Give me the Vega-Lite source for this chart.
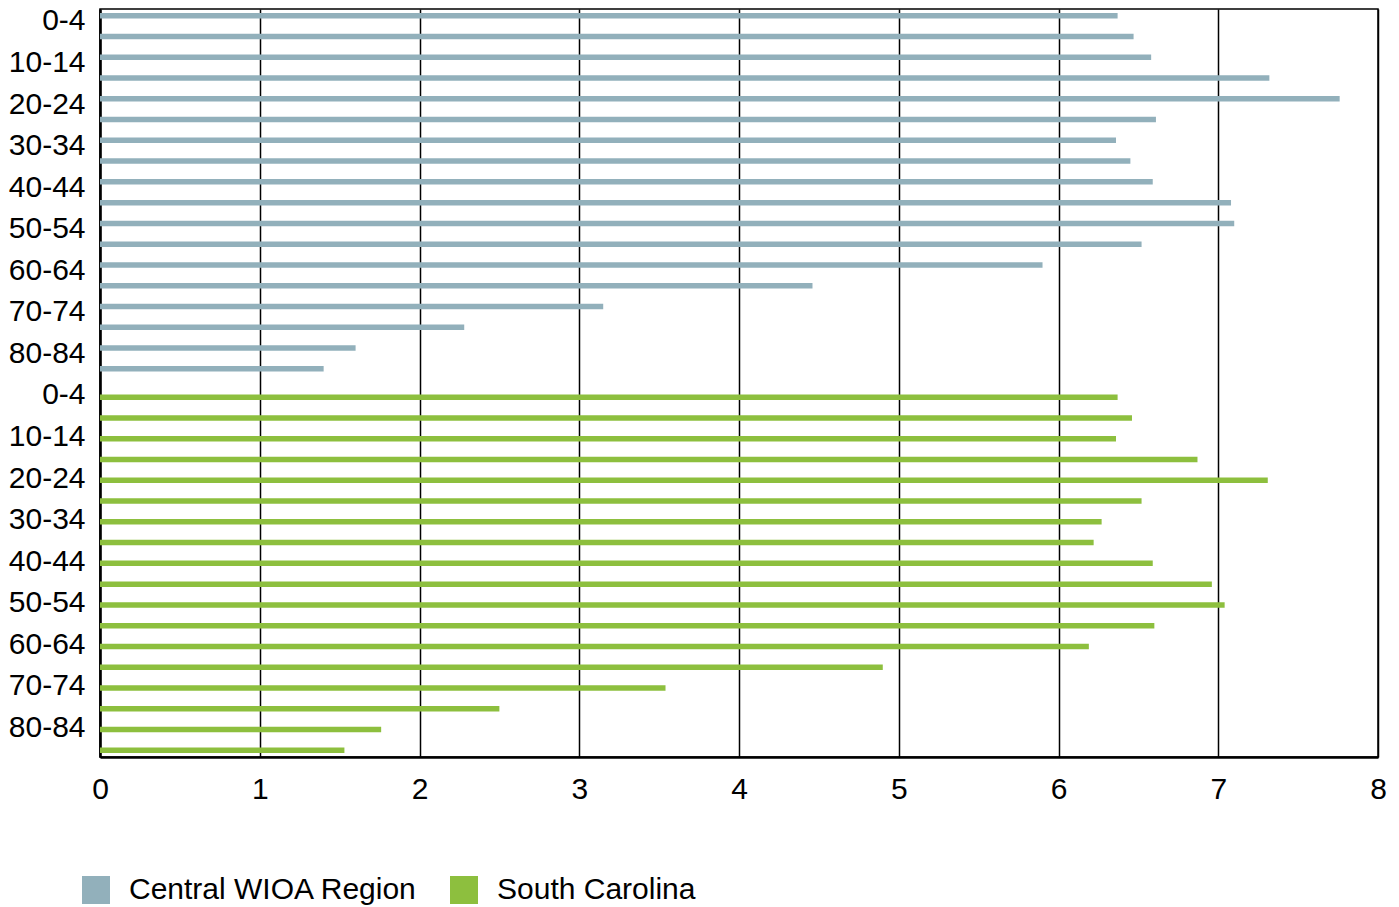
{
  "$schema": "https://vega.github.io/schema/vega-lite/v6.json",
  "width": 1278,
  "height": 748,
  "autosize": {"type": "none"},
  "padding": {"left": 100, "top": 9, "right": 21, "bottom": 150},
  "background": "white",
  "config": {
    "font": "Liberation Sans",
    "view": {"stroke": "black", "strokeWidth": 1.5},
    "axis": {"labelFont": "Liberation Sans", "labelFontSize": 30, "labelColor": "black"}
  },
  "data": {
    "values": [
      {"key": "C|0-4", "series": "Central WIOA Region", "value": 6.37},
      {"key": "C|5-9", "series": "Central WIOA Region", "value": 6.47},
      {"key": "C|10-14", "series": "Central WIOA Region", "value": 6.58},
      {"key": "C|15-19", "series": "Central WIOA Region", "value": 7.32},
      {"key": "C|20-24", "series": "Central WIOA Region", "value": 7.76},
      {"key": "C|25-29", "series": "Central WIOA Region", "value": 6.61},
      {"key": "C|30-34", "series": "Central WIOA Region", "value": 6.36},
      {"key": "C|35-39", "series": "Central WIOA Region", "value": 6.45},
      {"key": "C|40-44", "series": "Central WIOA Region", "value": 6.59},
      {"key": "C|45-49", "series": "Central WIOA Region", "value": 7.08},
      {"key": "C|50-54", "series": "Central WIOA Region", "value": 7.10},
      {"key": "C|55-59", "series": "Central WIOA Region", "value": 6.52},
      {"key": "C|60-64", "series": "Central WIOA Region", "value": 5.90},
      {"key": "C|65-69", "series": "Central WIOA Region", "value": 4.46},
      {"key": "C|70-74", "series": "Central WIOA Region", "value": 3.15},
      {"key": "C|75-79", "series": "Central WIOA Region", "value": 2.28},
      {"key": "C|80-84", "series": "Central WIOA Region", "value": 1.60},
      {"key": "C|85+", "series": "Central WIOA Region", "value": 1.40},
      {"key": "S|0-4", "series": "South Carolina", "value": 6.37},
      {"key": "S|5-9", "series": "South Carolina", "value": 6.46},
      {"key": "S|10-14", "series": "South Carolina", "value": 6.36},
      {"key": "S|15-19", "series": "South Carolina", "value": 6.87},
      {"key": "S|20-24", "series": "South Carolina", "value": 7.31},
      {"key": "S|25-29", "series": "South Carolina", "value": 6.52},
      {"key": "S|30-34", "series": "South Carolina", "value": 6.27},
      {"key": "S|35-39", "series": "South Carolina", "value": 6.22},
      {"key": "S|40-44", "series": "South Carolina", "value": 6.59},
      {"key": "S|45-49", "series": "South Carolina", "value": 6.96},
      {"key": "S|50-54", "series": "South Carolina", "value": 7.04},
      {"key": "S|55-59", "series": "South Carolina", "value": 6.60},
      {"key": "S|60-64", "series": "South Carolina", "value": 6.19},
      {"key": "S|65-69", "series": "South Carolina", "value": 4.90},
      {"key": "S|70-74", "series": "South Carolina", "value": 3.54},
      {"key": "S|75-79", "series": "South Carolina", "value": 2.50},
      {"key": "S|80-84", "series": "South Carolina", "value": 1.76},
      {"key": "S|85+", "series": "South Carolina", "value": 1.53}
    ]
  },
  "mark": {"type": "bar"},
  "encoding": {
    "y": {
      "field": "key",
      "type": "nominal",
      "sort": null,
      "scale": {"paddingInner": 0, "paddingOuter": 0},
      "axis": {
        "title": null,
        "values": ["C|0-4", "C|10-14", "C|20-24", "C|30-34", "C|40-44", "C|50-54", "C|60-64", "C|70-74", "C|80-84", "S|0-4", "S|10-14", "S|20-24", "S|30-34", "S|40-44", "S|50-54", "S|60-64", "S|70-74", "S|80-84"],
        "labelExpr": "split(datum.value, '|')[1]",
        "ticks": false,
        "domainColor": "black",
        "domainWidth": 2.5,
        "labelPadding": 15,
        "labelOffset": 2,
        "grid": false
      }
    },
    "yOffset": {
      "field": "series",
      "type": "nominal",
      "scale": {"domain": ["Central WIOA Region", "South Carolina"], "paddingInner": 0.27, "paddingOuter": 0.52}
    },
    "x": {
      "field": "value",
      "type": "quantitative",
      "scale": {"domain": [0, 8], "nice": false},
      "axis": {
        "title": null,
        "values": [0, 1, 2, 3, 4, 5, 6, 7, 8],
        "format": "d",
        "ticks": false,
        "labelFlush": false,
        "domainColor": "black",
        "domainWidth": 2.5,
        "labelPadding": 17,
        "grid": true,
        "gridColor": "black",
        "gridWidth": 1.5,
        "gridOpacity": 1
      }
    },
    "color": {
      "field": "series",
      "type": "nominal",
      "scale": {"domain": ["Central WIOA Region", "South Carolina"], "range": ["#92B0BB", "#8DBF3E"]},
      "legend": {
        "title": null,
        "orient": "none",
        "legendX": -19,
        "legendY": 866,
        "direction": "horizontal",
        "symbolType": "square",
        "symbolSize": 784,
        "symbolStrokeWidth": 0,
        "symbolOpacity": 1,
        "labelFont": "Liberation Sans",
        "labelFontSize": 30,
        "labelLimit": 0,
        "labelColor": "black",
        "labelOffset": 18,
        "columnPadding": 31,
        "padding": 0
      }
    }
  }
}
